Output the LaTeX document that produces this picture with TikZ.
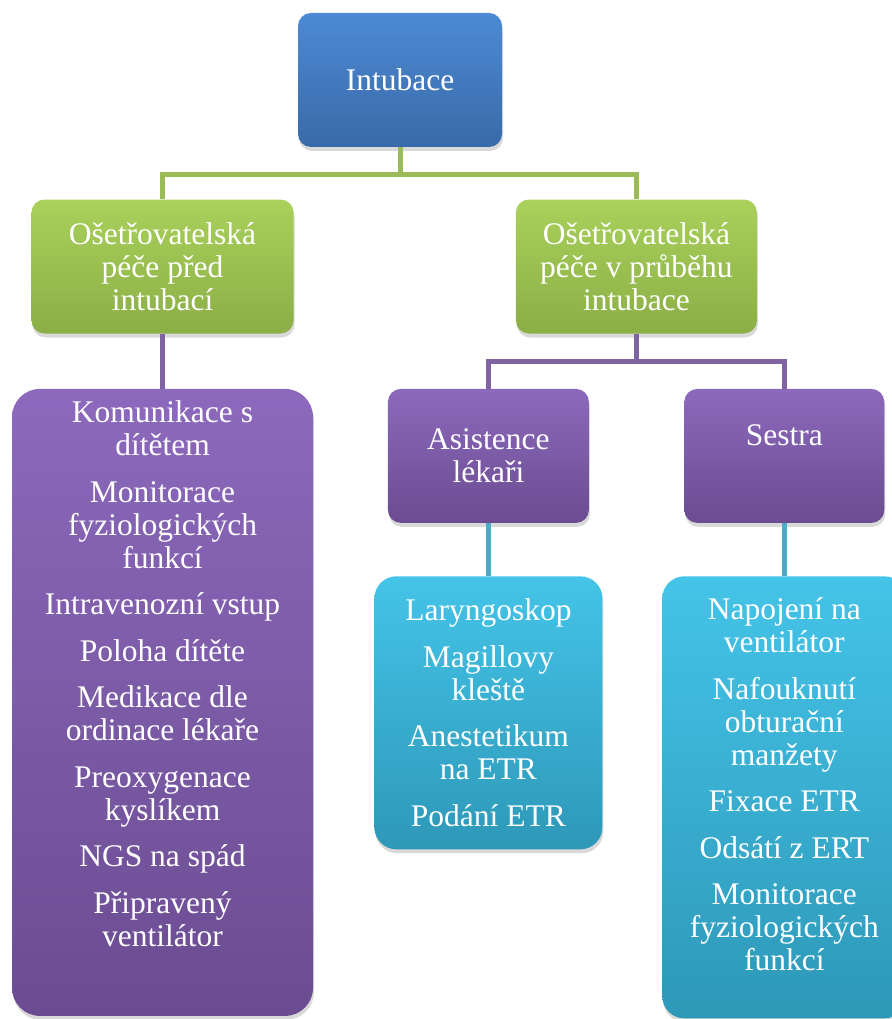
\documentclass[tikz,border=0pt]{standalone}
\usepackage{fontspec}
\setmainfont{Liberation Serif}
\usepackage{tikz}
\usetikzlibrary{positioning,shadows}
\definecolor{blueTop}{HTML}{4D8AD4}
\definecolor{blueBot}{HTML}{386AA8}
\definecolor{greenTop}{HTML}{A9D15B}
\definecolor{greenBot}{HTML}{8BAE46}
\definecolor{purpleTop}{HTML}{8C69BC}
\definecolor{purpleBot}{HTML}{6B4C91}
\definecolor{cyanTop}{HTML}{44C4E8}
\definecolor{cyanBot}{HTML}{2E98B8}
\definecolor{greenLine}{HTML}{9BBB59}
\definecolor{purpleLine}{HTML}{8064A2}
\definecolor{cyanLine}{HTML}{4BACC6}
\tikzset{
  orgbox/.style={rounded corners=13pt, minimum width=204pt,
    minimum height=134pt, align=center, text=white, inner sep=4pt,
    font=\fontsize{31.5}{33}\selectfont,
    drop shadow={shadow xshift=1pt, shadow yshift=-4pt, opacity=0.3}},
  rootbox/.style={orgbox, top color=blueTop, bottom color=blueBot},
  greenbox/.style={orgbox, top color=greenTop, bottom color=greenBot},
  purplebox/.style={orgbox, top color=purpleTop, bottom color=purpleBot},
  cyanbox/.style={orgbox, top color=cyanTop, bottom color=cyanBot},
  link/.style={line width=5pt},
  glink/.style={link, draw=greenLine},
  plink/.style={link, draw=purpleLine},
  clink/.style={link, draw=cyanLine},
}
\begin{document}
\begin{tikzpicture}[x=1pt, y=1pt]
  \useasboundingbox (0,0) rectangle (891,-1019);

  % Top
  \node[rootbox] (root) at (400,-80) {Intubace};

  % Second level
  \node[greenbox, minimum width=262pt] (pre) at (162.5,-266.5)
    {Ošetřovatelská\\péče před\\intubací};
  \node[greenbox, minimum width=241pt, right=222pt of pre] (during)
    {Ošetřovatelská\\péče v průběhu\\intubace};

  % Third level
  \node[purplebox, minimum width=301pt, minimum height=627pt,
        rounded corners=28pt, below=55pt of pre] (prelist)
    {Komunikace s\\dítětem\\[13.5pt]
     Monitorace\\fyziologických\\funkcí\\[13.5pt]
     Intravenozní vstup\\[13.5pt]
     Poloha dítěte\\[13.5pt]
     Medikace dle\\ordinace lékaře\\[13.5pt]
     Preoxygenace\\kyslíkem\\[13.5pt]
     NGS na spád\\[13.5pt]
     Připravený\\ventilátor\\[25pt]\mbox{}};
  \node[purplebox, minimum width=201pt, below=55pt of during,
        xshift=-148pt] (assist) {Asistence\\lékaři};
  \node[purplebox, minimum width=200pt, right=95pt of assist] (nurse)
    {Sestra\\[9pt]\mbox{}};

  % Fourth level
  \node[cyanbox, minimum width=228pt, minimum height=273pt,
        rounded corners=22pt, below=53pt of assist] (assistlist)
    {Laryngoskop\\[13.5pt]
     Magillovy\\kleště\\[13.5pt]
     Anestetikum\\na ETR\\[13.5pt]
     Podání ETR};
  \node[cyanbox, minimum width=244pt, minimum height=442pt,
        rounded corners=22pt, below=53pt of nurse] (nurselist)
    {Napojení na\\ventilátor\\[13.5pt]
     Nafouknutí\\obturační\\manžety\\[13.5pt]
     Fixace ETR\\[13.5pt]
     Odsátí z ERT\\[13.5pt]
     Monitorace\\fyziologických\\funkcí\\[-7pt]\mbox{}};

  % Connectors
  \draw[glink] (root.south) -- ++(0,-27) -| (pre.north);
  \draw[glink] (root.south) -- ++(0,-27) -| (during.north);
  \draw[plink] (pre.south) -- (prelist.north);
  \draw[plink] (during.south) -- ++(0,-28) -| (assist.north);
  \draw[plink] (during.south) -- ++(0,-28) -| (nurse.north);
  \draw[clink] (assist.south) -- (assistlist.north);
  \draw[clink] (nurse.south) -- (nurselist.north);
\end{tikzpicture}
\end{document}
